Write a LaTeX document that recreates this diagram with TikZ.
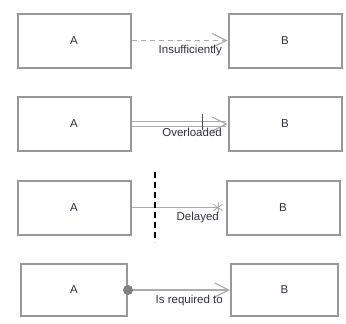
\documentclass[tikz,border=0pt]{standalone}
\usepackage{fontspec}
\setmainfont{Liberation Sans}
\usetikzlibrary{arrows.meta}
\definecolor{boxgray}{HTML}{989898}
\definecolor{linegray}{HTML}{ABABAB}
\definecolor{txtgray}{HTML}{303040}
\tikzset{
  entity/.style={draw=boxgray, line width=2pt, minimum width=113pt, minimum height=54pt, inner sep=0pt, text=txtgray, font=\fontsize{11.5}{13}\selectfont},
  link/.style={draw=linegray, line width=1.5pt, -{Straight Barb[length=14pt,width=14pt,line width=1.2pt]}},
  lbl/.style={text=txtgray, font=\fontsize{11.5}{13}\selectfont, inner sep=1pt, anchor=north east}
}

\begin{document}
\begin{tikzpicture}[x=1pt,y=-1pt]
\useasboundingbox (0,0) rectangle (346,324);
% boxes
\node[entity] (a1) at (74,40.5) {A};
\node[entity] (b1) at (285,40.5) {B};
\node[entity] (a2) at (74,124) {A};
\node[entity] (b2) at (285,124) {B};
\node[entity] (a3) at (74,207.5) {A};
\node[entity] (b3) at (283,207.5) {B};
\node[entity, minimum width=106pt, minimum height=52pt] (a4) at (74,290) {A};
\node[entity, minimum width=107pt, minimum height=52pt] (b4) at (284.5,290) {B};
% insufficiently
\draw[link, dash pattern=on 5pt off 4pt] (a1) -- (b1);
\node[lbl] (l1) at (223,43.5) {Insufficiently};
% overloaded
\draw[link, double=white, double distance=3.5pt, line width=1.4pt] (a2) -- (b2);
\draw[black!70, line width=0.7pt] (202,114) -- (202,130);
\node[lbl] (l2) at (223,127) {Overloaded};
% delayed
\coordinate (d3) at (218,207.5);
\draw[draw=linegray, line width=1.5pt] (a3) -- (d3);
\foreach \ang in {90,35,145} {
  \draw[linegray, line width=0.9pt] (d3) ++(\ang:5.5pt) -- ++(\ang+180:11pt);
}
\draw[black, line width=1.1pt, dash pattern=on 6pt off 4pt] (155,172) -- (155,242);
\node[lbl] (l3) at (220,210.5) {Delayed};
% is required to
\draw[link] (a4) -- (b4);
\fill[gray] (a4.east) circle (5pt);
\node[lbl] (l4) at (224,293.5) {Is required to};
\end{tikzpicture}
\end{document}
